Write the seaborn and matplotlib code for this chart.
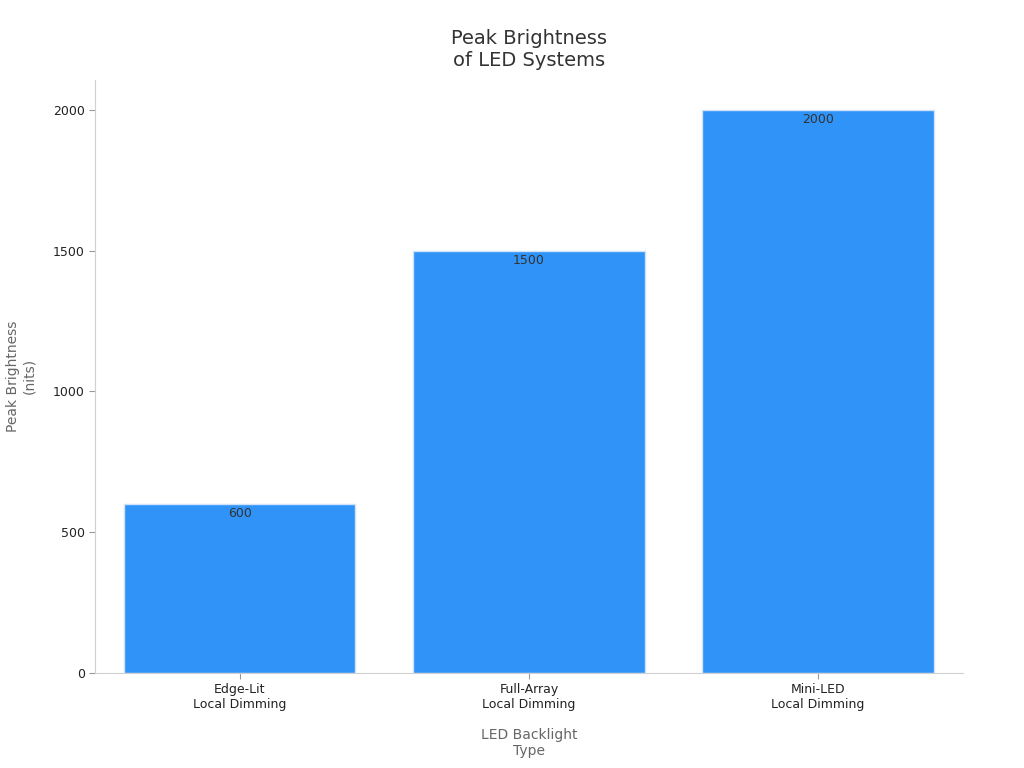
import matplotlib
matplotlib.use("Agg")
import matplotlib.pyplot as plt
import seaborn as sns
import pandas as pd

categories = ["Edge-Lit\nLocal Dimming", "Full-Array\nLocal Dimming", "Mini-LED\nLocal Dimming"]
values = [600, 1500, 2000]

sns.set_style("white")
plt.rcParams['font.family'] = ['DejaVu Sans']
df = pd.DataFrame({"cat": categories, "val": values})

fig = plt.figure(figsize=(10.24, 7.68), dpi=100)
ax = fig.add_axes([0.093, 0.124, 0.847, 0.772])
sns.barplot(data=df, x="cat", y="val", color="#2F93F8", saturation=1, width=0.8,
            edgecolor="#cfe4fb", linewidth=1, ax=ax)
for i, v in enumerate(values):
    ax.text(i, v - 12, str(v), ha="center", va="top", fontsize=9, color="#333333")
ax.set_xlim(-0.5, 2.5)
ax.set_ylim(0, 2107)
ax.set_yticks([0, 500, 1000, 1500, 2000])
for s in ["top", "right"]:
    ax.spines[s].set_visible(False)
for s in ["left", "bottom"]:
    ax.spines[s].set_color("#d0d0d0")
ax.tick_params(axis="both", labelsize=9, colors="#222222", length=4, color="#999999")
ax.tick_params(axis="both", which="both", bottom=True, left=True)
ax.set_xlabel("LED Backlight\nType", fontsize=10, color="#666666", labelpad=12)
ax.set_ylabel("Peak Brightness\n(nits)", fontsize=10, color="#666666", labelpad=12)
ax.set_title("Peak Brightness\nof LED Systems", fontsize=14, color="#333333", pad=10)
fig.savefig("out.png", dpi=100)
